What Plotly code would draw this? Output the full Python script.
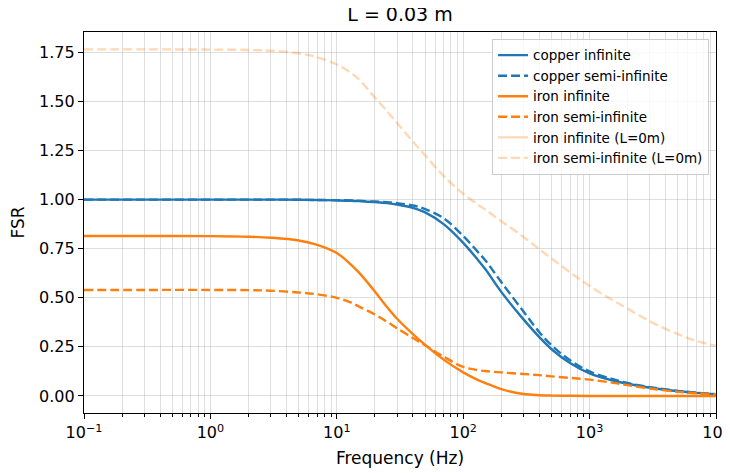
import plotly.graph_objects as go

freq = [0.1, 0.3, 1, 2, 3, 5, 7, 10, 13, 15, 20, 25, 30, 40, 50, 70, 100, 130,
        150, 200, 300, 400, 500, 700, 1000, 1500, 2000, 3000, 5000, 7000, 10000]

copper_inf = [1.0, 1.0, 1.0, 1.0, 1.0, 0.999, 0.998, 0.996, 0.994, 0.992, 0.987,
              0.982, 0.975, 0.958, 0.935, 0.875, 0.78, 0.695, 0.645, 0.53, 0.39,
              0.30, 0.238, 0.168, 0.115, 0.08, 0.062, 0.042, 0.024, 0.016, 0.009]
copper_semi = [1.0, 1.0, 1.0, 1.0, 1.0, 0.999, 0.998, 0.997, 0.996, 0.994, 0.99,
               0.987, 0.982, 0.97, 0.952, 0.905, 0.815, 0.735, 0.69, 0.58, 0.43,
               0.325, 0.258, 0.182, 0.125, 0.087, 0.066, 0.045, 0.026, 0.017, 0.009]
iron_inf = [0.815, 0.815, 0.814, 0.811, 0.806, 0.792, 0.77, 0.728, 0.668, 0.628,
            0.532, 0.452, 0.393, 0.315, 0.26, 0.185, 0.12, 0.082, 0.066, 0.035,
            0.01, 0.004, 0.002, 0.001, 0.0, 0.0, 0.0, 0.0, 0.0, 0.0, 0.0]
iron_semi = [0.54, 0.54, 0.54, 0.539, 0.536, 0.527, 0.518, 0.5, 0.475, 0.455,
             0.415, 0.378, 0.345, 0.295, 0.258, 0.2, 0.148, 0.132, 0.127, 0.12,
             0.112, 0.106, 0.1, 0.092, 0.083, 0.068, 0.055, 0.038, 0.021, 0.014,
             0.009]
iron_inf_L0 = [None] * len(freq)
iron_semi_L0 = [1.765, 1.765, 1.764, 1.762, 1.758, 1.745, 1.725, 1.688, 1.645,
                1.612, 1.52, 1.45, 1.39, 1.295, 1.225, 1.12, 1.03, 0.975, 0.948,
                0.89, 0.81, 0.748, 0.70, 0.63, 0.56, 0.49, 0.445, 0.38, 0.315,
                0.28, 0.255]

x_major = [0.1, 1, 10, 100, 1000, 10000]
x_major_text = ["10<sup>\u22121</sup>", "10<sup>0</sup>", "10<sup>1</sup>",
                "10<sup>2</sup>", "10<sup>3</sup>", "10<sup>4</sup>"]
x_minor = [m * d for d in [0.1, 1, 10, 100, 1000] for m in range(2, 10)]
y_ticks = [0.0, 0.25, 0.5, 0.75, 1.0, 1.25, 1.5, 1.75]

BLUE = "#1f77b4"
ORANGE = "#ff7f0e"
LIGHT = "rgba(255,127,14,0.3)"
DASH = "9px,4px"
LW = 2.4

series = [
    ("copper infinite", copper_inf, BLUE, "solid"),
    ("copper semi-infinite", copper_semi, BLUE, DASH),
    ("iron infinite", iron_inf, ORANGE, "solid"),
    ("iron semi-infinite", iron_semi, ORANGE, DASH),
    ("iron infinite (L=0m)", iron_inf_L0, LIGHT, "solid"),
    ("iron semi-infinite (L=0m)", iron_semi_L0, LIGHT, DASH),
]

fig = go.Figure()
for name, vals, col, dash in series:
    fig.add_trace(go.Scatter(
        x=freq, y=vals, mode="lines", name=name,
        line=dict(color=col, width=LW, dash=dash, shape="spline", smoothing=1.0),
        connectgaps=False,
    ))

GRID = "rgba(176,176,176,0.42)"
FONT = "DejaVu Sans"

# the page body adds an 8px offset, so the figure is 8px smaller
W, H = 722, 465

fig.update_layout(
    width=W, height=H,
    margin=dict(l=76, r=14, t=24, b=60),
    paper_bgcolor="white", plot_bgcolor="white",
    font=dict(family=FONT, size=16, color="black"),
    title=dict(text="L = 0.03 m", x=0.5, xref="paper", xanchor="center",
               y=1, yref="container", yanchor="top", pad=dict(t=0, b=0),
               font=dict(family=FONT, size=19, color="black")),
    showlegend=True,
    legend=dict(x=0.989, y=0.982, xanchor="right", yanchor="top",
                bgcolor="rgba(255,255,255,0.8)", bordercolor="#cccccc",
                borderwidth=1, font=dict(family=FONT, size=13.5, color="black"),
                tracegroupgap=0, itemwidth=30),
)

fig.update_xaxes(
    type="log", range=[-1, 4], automargin=False,
    tickmode="array", tickvals=x_major, ticktext=x_major_text,
    ticks="outside", ticklen=5, tickwidth=1.2, tickcolor="black",
    showgrid=True, gridcolor=GRID, gridwidth=1,
    showline=True, linecolor="black", linewidth=1.3, mirror=True,
    zeroline=False,
    minor=dict(tickmode="array", tickvals=x_minor, ticks="outside", ticklen=3,
               tickwidth=1, tickcolor="black", showgrid=True, gridcolor=GRID,
               gridwidth=1),
    title=dict(text="Frequency (Hz)", font=dict(family=FONT, size=17), standoff=10),
    tickfont=dict(family=FONT, size=16),
)
fig.update_yaxes(
    range=[-0.0867, 1.8535], automargin=False,
    tickmode="array", tickvals=y_ticks, tickformat=".2f",
    ticks="outside", ticklen=5, tickwidth=1.2, tickcolor="black",
    showgrid=True, gridcolor=GRID, gridwidth=1,
    showline=True, linecolor="black", linewidth=1.3, mirror=True,
    zeroline=False,
    title=dict(text="FSR", font=dict(family=FONT, size=17), standoff=10),
    tickfont=dict(family=FONT, size=16),
)

fig.write_html("out.html")
